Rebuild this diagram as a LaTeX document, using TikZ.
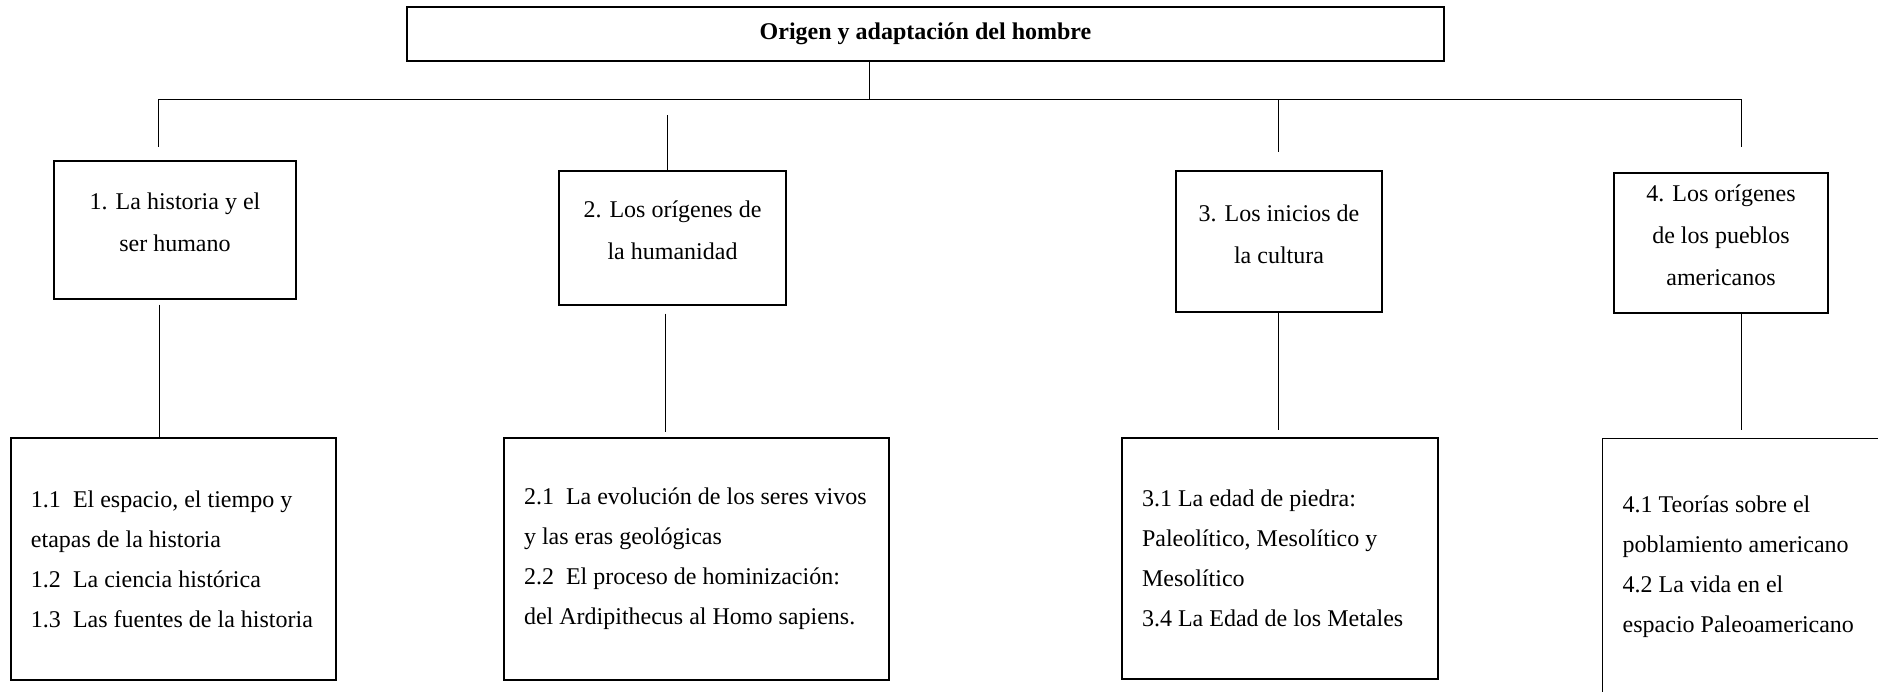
\documentclass[tikz,border=0pt]{standalone}
\usepackage{fontspec}
\setmainfont{Liberation Serif}
\usepackage{tikz}

\begin{document}
\begin{tikzpicture}[x=0.5pt,y=-0.5pt,
  every node/.style={font=\fontsize{12}{21}\selectfont},
  tema/.style={draw,line width=0.7pt,align=flush center,inner sep=0pt,
    execute at end node={\rule[-7.5pt]{0pt}{7.5pt}}},
  subtema/.style={draw,line width=0.7pt,align=flush left,inner xsep=10pt,inner ysep=0pt,
    font=\fontsize{12}{20}\selectfont},
  rama/.style={line width=0.5pt}]
\useasboundingbox (0,0) rectangle (1878,691);
\clip (0,0) rectangle (1878,691);
%title
\node[draw,line width=0.7pt,font=\fontsize{12}{21}\selectfont\bfseries,minimum width=518.5pt,minimum height=27pt]
  (titulo) at (925.5,34) {Origen y adaptaci\'on del hombre};
\coordinate (bar) at (869,99);
\coordinate (barL) at (158,99);
\coordinate (barR) at (1741,99);
\draw[rama] (titulo.south -| bar) -- (bar);
\draw[rama] (barL) -- (barR);
%branch 1
\node[tema,minimum width=121pt,minimum height=69pt] (t1) at (175,230) {1. La historia y el\\ser humano};
\node[subtema,text width=142.5pt,minimum width=162.5pt,minimum height=121pt] (s1) at (173.5,559)
  {1.1\ \ El espacio, el tiempo y\\etapas de la historia\\1.2\ \ La ciencia hist\'orica\\1.3\ \ Las fuentes de la historia};
\draw[rama,shorten >=6.5pt] (barL) -- (barL |- t1.north);
\coordinate (b1) at (159,0);
\draw[rama,shorten <=2.5pt] (b1 |- t1.south) -- (b1 |- s1.north);
%branch 2
\node[tema,minimum width=113.5pt,minimum height=67pt] (t2) at (672.5,238) {2. Los or\'igenes de\\la humanidad};
\node[subtema,text width=172.5pt,minimum width=192.5pt,minimum height=121pt] (s2) at (696.5,559)
  {2.1\ \ La evoluci\'on de los seres vivos\\y las eras geol\'ogicas\\2.2\ \ El proceso de hominizaci\'on:\\del Ardipithecus al Homo sapiens.};
\coordinate (d2) at (667,99);
\draw[rama,shorten <=8pt] (d2) -- (d2 |- t2.north);
\coordinate (b2) at (665,0);
\draw[rama,shorten <=4pt,shorten >=2.5pt] (b2 |- t2.south) -- (b2 |- s2.north);
%branch 3
\node[tema,minimum width=103pt,minimum height=70.5pt] (t3) at (1279,241.5) {3. Los inicios de\\la cultura};
\node[subtema,text width=138pt,minimum width=158pt,minimum height=120.5pt] (s3) at (1280,558.5)
  {3.1 La edad de piedra:\\Paleol\'itico, Mesol\'itico y\\Mesol\'itico\\3.4 La Edad de los Metales};
\coordinate (d3) at (1278,99);
\draw[rama,shorten >=9pt] (d3) -- (d3 |- t3.north);
\draw[rama,shorten >=3.5pt] (d3 |- t3.south) -- (d3 |- s3.north);
%branch 4
\node[tema,minimum width=107pt,minimum height=70pt] (t4) at (1721,243) {4. Los or\'igenes\\de los pueblos\\americanos};
\node[subtema,anchor=north west,text width=130pt,minimum width=150pt,minimum height=128pt] (s4) at (1602,438)
  {4.1 Teor\'ias sobre el\\poblamiento americano\\4.2 La vida en el\\espacio Paleoamericano};
\draw[rama,shorten >=12.5pt] (barR) -- (barR |- t4.north);
\draw[rama,shorten >=4pt] (barR |- t4.south) -- (barR |- s4.north);
\end{tikzpicture}
\end{document}
